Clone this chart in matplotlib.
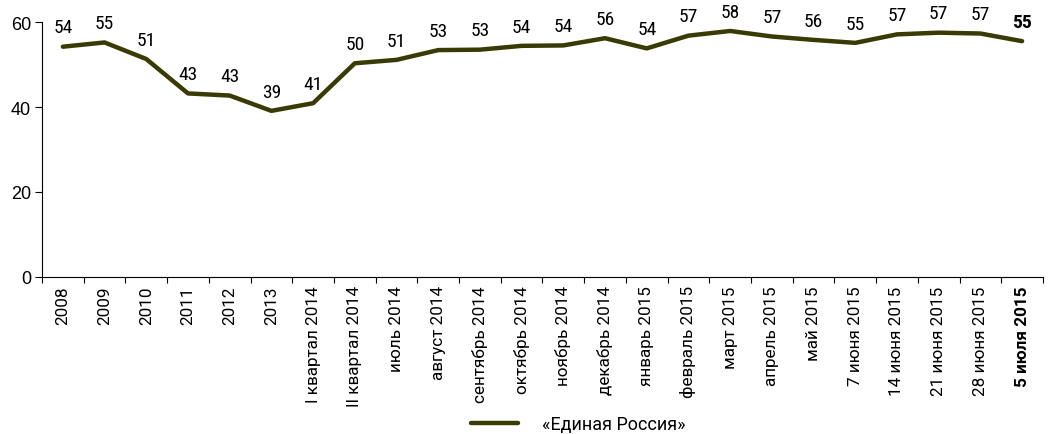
import matplotlib.pyplot as plt
from matplotlib.ticker import FixedLocator

# Data
categories = ['2008', '2009', '2010', '2011', '2012', '2013',
              'I квартал 2014', 'II квартал 2014', 'июль 2014', 'август 2014',
              'сентябрь 2014', 'октябрь 2014', 'ноябрь 2014', 'декабрь 2014',
              'январь 2015', 'февраль 2015', 'март 2015', 'апрель 2015',
              'май 2015', '7 июня 2015', '14 июня 2015', '21 июня 2015',
              '28 июня 2015', '5 июля 2015']
values = [54.2, 55.2, 51.3, 43.2, 42.7, 39.1, 40.9, 50.3, 51.1, 53.4, 53.5, 54.4,
          54.5, 56.2, 53.8, 56.8, 57.9, 56.6, 55.8, 55.1, 57.1, 57.5, 57.3, 55.5]
labels = [54, 55, 51, 43, 43, 39, 41, 50, 51, 53, 53, 54,
          54, 56, 54, 57, 58, 57, 56, 55, 57, 57, 57, 55]
series_name = '«Единая Россия»'

plt.rcParams['font.family'] = ['Roboto', 'DejaVu Sans']
cond = ['Roboto Condensed', 'Roboto', 'DejaVu Sans']
color = '#3a3a05'

fig = plt.figure(figsize=(10.61, 4.35), dpi=100)
ax = fig.add_axes([0.0396, 0.361, 0.9434, 0.586])

x = list(range(len(categories)))
line, = ax.plot(x, values, color=color, lw=3.2, solid_capstyle='round',
                solid_joinstyle='round', label=series_name, clip_on=False)

for i, (v, lab) in enumerate(zip(values, labels)):
    bold = i == len(values) - 1
    ax.text(i, v + 2.4, str(lab), ha='center', va='bottom', fontsize=14,
            family=cond, fontweight='bold' if bold else 'normal', color='black')

ax.set_xlim(-0.5, len(categories) - 0.5)
ax.set_ylim(0, 60)
ax.set_yticks([0, 20, 40, 60])
ax.tick_params(axis='y', labelsize=13, length=5, width=0.8, pad=3)
for t in ax.get_yticklabels():
    t.set_family(['Liberation Sans', 'DejaVu Sans'])

ax.set_xticks(x)
ax.set_xticklabels(categories, rotation=90, fontsize=12.3)
ax.get_xticklabels()[-1].set_fontweight('bold')
ax.tick_params(axis='x', which='major', length=0, pad=6)
ax.xaxis.set_minor_locator(FixedLocator([i - 0.5 for i in range(len(categories) + 1)]))
ax.tick_params(axis='x', which='minor', length=4, width=0.8)

for s in ['top', 'right']:
    ax.spines[s].set_visible(False)
for s in ['left', 'bottom']:
    ax.spines[s].set_linewidth(0.8)

fig.legend(handles=[line], loc='center', bbox_to_anchor=(0.545, 0.022),
           frameon=False, fontsize=13, handlelength=2.6, handletextpad=1.3)

fig.savefig('out.png', dpi=100)
